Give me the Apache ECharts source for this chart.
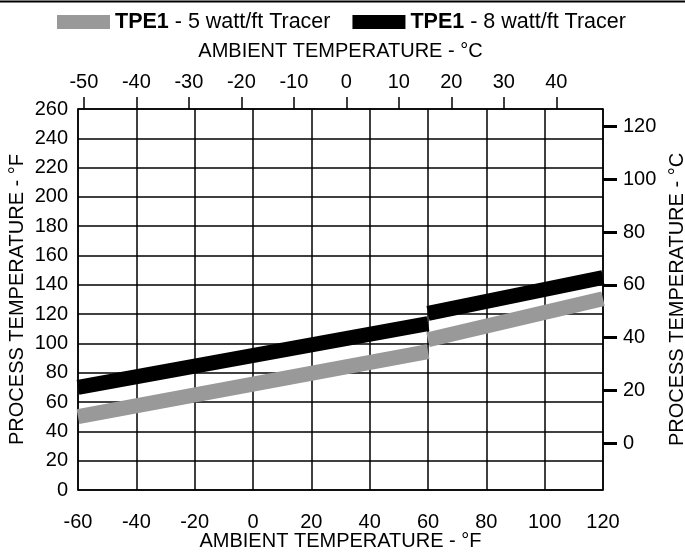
<!DOCTYPE html>
<html lang="en">
<head>
    <meta charset="utf-8" />
    <title>TPE1 tracer chart</title>
    <script src="https://cdn.jsdelivr.net/npm/echarts@6.0.0/dist/echarts.min.js"></script>
    <style>
        html, body { margin: 0; padding: 0; background: #fff; }
        #main { width: 685px; height: 552px; }
    </style>
</head>
<body>
    <div id="main"></div>
    <script>
        // values (°F ambient, °F process)
        var tracer5Low = [[-60, 50], [60, 94.5]];
        var tracer5High = [[60, 102.5], [120, 130.5]];
        var tracer8Low = [[-60, 70], [60, 113.5]];
        var tracer8High = [[60, 120.5], [120, 145]];
        var topCelsiusTicks = [-50, -40, -30, -20, -10, 0, 10, 20, 30, 40];
        var rightCelsiusTicks = [0, 20, 40, 60, 80, 100, 120];
        var name5 = 'TPE1 - 5 watt/ft Tracer';
        var name8 = 'TPE1 - 8 watt/ft Tracer';

        function toC(f) { return (f - 32) * 5 / 9; }

        var font = 'Liberation Sans, Arial, Helvetica, sans-serif';
        var txt = { color: '#000', fontSize: 20, fontFamily: font };
        var blackLine = { onZero: false, lineStyle: { color: '#000', width: 1.5 } };

        var myChart = echarts.init(document.getElementById('main'));

        function seg(name, data, color) {
            return {
                name: name,
                type: 'line',
                data: data,
                symbol: 'none',
                color: color,
                lineStyle: { color: color, width: 15, cap: 'butt' },
                itemStyle: { color: color },
                z: 3
            };
        }

        var option = {
            animation: false,
            graphic: [{
                type: 'line',
                shape: { x1: 0, y1: 1.5, x2: 685, y2: 1.5 },
                style: { stroke: '#000', lineWidth: 2 }
            }],
            legend: {
                top: 6,
                left: 52,
                icon: 'rect',
                itemWidth: 53,
                itemHeight: 14,
                itemGap: 22,
                data: [name5, name8],
                formatter: function (n) {
                    return '{b|TPE1}' + n.substr(4);
                },
                textStyle: {
                    color: '#000', fontSize: 21.5, fontFamily: font,
                    rich: { b: { fontWeight: 'bold', fontSize: 21.5, fontFamily: font } }
                }
            },
            grid: { left: 78, right: 82, top: 109, bottom: 62, outerBoundsMode: 'none', containLabel: false },
            xAxis: [{
                type: 'value',
                position: 'bottom',
                min: -60, max: 120, interval: 20,
                name: 'AMBIENT TEMPERATURE - °F',
                nameLocation: 'middle',
                nameMoveOverlap: false,
                nameGap: 41,
                nameTextStyle: txt,
                axisLine: blackLine,
                axisTick: { show: false },
                axisLabel: Object.assign({ margin: 22 }, txt),
                splitLine: { show: true, lineStyle: { color: '#000', width: 1.5 } }
            }, {
                type: 'value',
                position: 'top',
                min: toC(-60), max: toC(120),
                name: 'AMBIENT TEMPERATURE - °C',
                nameLocation: 'middle',
                nameMoveOverlap: false,
                nameGap: 48,
                nameTextStyle: txt,
                axisLine: blackLine,
                axisTick: { show: true, length: 12, customValues: topCelsiusTicks, lineStyle: { color: '#000', width: 1.5 } },
                axisLabel: Object.assign({ margin: 17, customValues: topCelsiusTicks }, txt),
                splitLine: { show: false }
            }],
            yAxis: [{
                type: 'value',
                position: 'left',
                min: 0, max: 260, interval: 20,
                name: 'PROCESS TEMPERATURE - °F',
                nameLocation: 'middle',
                nameMoveOverlap: false,
                nameRotate: 90,
                nameGap: 51,
                nameTextStyle: txt,
                axisLine: blackLine,
                axisTick: { show: false },
                axisLabel: Object.assign({ margin: 10 }, txt),
                splitLine: { show: true, lineStyle: { color: '#000', width: 1.5 } }
            }, {
                type: 'value',
                position: 'right',
                min: toC(0), max: toC(260),
                name: 'PROCESS TEMPERATURE - °C',
                nameLocation: 'middle',
                nameMoveOverlap: false,
                nameRotate: 90,
                nameGap: 64,
                nameTextStyle: txt,
                axisLine: blackLine,
                axisTick: { show: true, length: 14, customValues: rightCelsiusTicks, lineStyle: { color: '#000', width: 3 } },
                axisLabel: Object.assign({ margin: 20, customValues: rightCelsiusTicks }, txt),
                splitLine: { show: false }
            }],
            series: [
                seg(name5, tracer5Low, '#999999'),
                seg(name5, tracer5High, '#999999'),
                seg(name8, tracer8Low, '#000000'),
                seg(name8, tracer8High, '#000000')
            ]
        };

        option && myChart.setOption(option);
    </script>
</body>
</html>
